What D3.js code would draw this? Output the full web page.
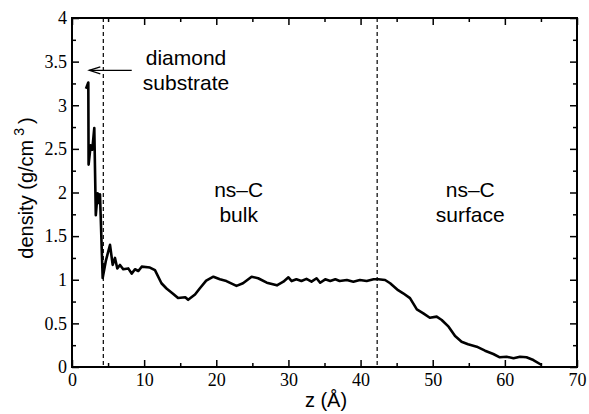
<!DOCTYPE html>
<html>
<head>
<meta charset="utf-8">
<script src="https://cdn.jsdelivr.net/npm/d3@7"></script>
<style>
  html, body { margin: 0; padding: 0; background: #fff; }
  svg { display: block; }
  .ticklbl text { font-family: "Liberation Serif", "DejaVu Serif", serif !important; font-size: 18px; }
</style>
</head>
<body>
<svg id="chart" width="589" height="414"></svg>
<script>
// ---- data ----
const zValues = [1.94, 2.26, 2.30, 2.59, 2.81, 3.09, 3.30, 3.55, 3.68, 3.88, 4.25, 4.7, 5.27, 5.64, 5.96, 6.28, 6.65, 7.1, 7.8, 8.27, 8.73, 9.2, 9.66, 10.8, 11.5, 12.4, 13.1, 14.0, 14.7, 15.7, 16.1, 17.05, 17.7, 18.6, 19.6, 20.5, 21.4, 22.8, 23.7, 24.9, 25.8, 27.0, 28.4, 29.3, 30.0, 30.45, 31.1, 31.8, 32.5, 33.2, 33.9, 34.4, 35.1, 35.8, 36.5, 37.1, 38.1, 39.0, 39.9, 40.85, 41.8, 42.46, 43.4, 44.1, 45.2, 45.9, 46.85, 47.8, 48.7, 49.6, 50.55, 51.25, 52.2, 53.1, 54.0, 54.9, 56.1, 57.25, 58.4, 59.3, 60.25, 61.2, 62.1, 63.0, 63.95, 65.1];
const densityValues = [3.19, 3.26, 2.32, 2.54, 2.49, 2.74, 1.74, 1.99, 1.88, 1.98, 1.02, 1.22, 1.40, 1.17, 1.25, 1.13, 1.17, 1.12, 1.13, 1.07, 1.12, 1.10, 1.15, 1.14, 1.11, 0.96, 0.90, 0.84, 0.79, 0.80, 0.77, 0.83, 0.90, 0.99, 1.035, 1.005, 0.985, 0.93, 0.96, 1.035, 1.017, 0.966, 0.936, 0.978, 1.028, 0.985, 1.005, 0.985, 1.01, 0.978, 1.017, 0.966, 1.005, 0.985, 1.005, 0.985, 0.997, 0.978, 0.997, 0.985, 1.005, 1.005, 0.997, 0.96, 0.88, 0.845, 0.79, 0.66, 0.615, 0.565, 0.577, 0.539, 0.462, 0.355, 0.29, 0.26, 0.233, 0.187, 0.149, 0.111, 0.118, 0.10, 0.118, 0.111, 0.08, 0.023];
const xMajorTicks = [0, 10, 20, 30, 40, 50, 60, 70];
const xMinorTicks = [5, 15, 25, 35, 45, 55, 65];
const yMajorTicks = [0, 0.5, 1, 1.5, 2, 2.5, 3, 3.5, 4];
const yMinorTicks = [0.25, 0.75, 1.25, 1.75, 2.25, 2.75, 3.25, 3.75];
const yTickLabels = ["0", "0.5", "1", "1.5", "2", "2.5", "3", "3.5", "4"];
const dividerZ = [4.34, 42.3];
const regionLabels = [
  {lines: ["diamond", "substrate"], z: 15.8, d: 3.46},
  {lines: ["ns\u2013C", "bulk"], z: 23.1, d: 1.95},
  {lines: ["ns\u2013C", "surface"], z: 55.2, d: 1.95}
];
const arrowFrom = {z: 8.28, d: 3.40};
const arrowTo = {z: 2.4, d: 3.40};

// ---- layout ----
const mLeft = 72, mRight = 577, mTop = 18, mBottom = 367;
const svg = d3.select("#chart");
const x = d3.scaleLinear().domain([0, 70]).range([mLeft, mRight]);
const y = d3.scaleLinear().domain([0, 4]).range([mBottom, mTop]);

const sans = "'Liberation Sans', Arial, Helvetica, sans-serif";

function styleAxis(g) {
  g.classed("ticklbl", true);
  g.attr("font-family", null).attr("font-size", null);
  g.select(".domain").remove();
  g.selectAll(".tick line").attr("stroke", "#000").attr("stroke-width", 1.5);
  g.selectAll(".tick text").attr("fill", "#000");
}

// bottom
svg.append("g").attr("transform", `translate(0,${mBottom})`)
  .call(d3.axisBottom(x).tickValues(xMajorTicks).tickFormat(d3.format("d")).tickSizeInner(-7).tickSizeOuter(0).tickPadding(6))
  .call(styleAxis);
svg.append("g").attr("transform", `translate(0,${mBottom})`)
  .call(d3.axisBottom(x).tickValues(xMinorTicks).tickFormat("").tickSizeInner(-4).tickSizeOuter(0))
  .call(styleAxis);
// top
svg.append("g").attr("transform", `translate(0,${mTop})`)
  .call(d3.axisTop(x).tickValues(xMajorTicks).tickFormat("").tickSizeInner(-7).tickSizeOuter(0))
  .call(styleAxis);
svg.append("g").attr("transform", `translate(0,${mTop})`)
  .call(d3.axisTop(x).tickValues(xMinorTicks).tickFormat("").tickSizeInner(-4).tickSizeOuter(0))
  .call(styleAxis);
// left
svg.append("g").attr("transform", `translate(${mLeft},0)`)
  .call(d3.axisLeft(y).tickValues(yMajorTicks).tickFormat((d, i) => yTickLabels[i]).tickSizeInner(-7).tickSizeOuter(0).tickPadding(5))
  .call(styleAxis);
svg.append("g").attr("transform", `translate(${mLeft},0)`)
  .call(d3.axisLeft(y).tickValues(yMinorTicks).tickFormat("").tickSizeInner(-4).tickSizeOuter(0))
  .call(styleAxis);
// right
svg.append("g").attr("transform", `translate(${mRight},0)`)
  .call(d3.axisRight(y).tickValues(yMajorTicks).tickFormat("").tickSizeInner(-7).tickSizeOuter(0))
  .call(styleAxis);
svg.append("g").attr("transform", `translate(${mRight},0)`)
  .call(d3.axisRight(y).tickValues(yMinorTicks).tickFormat("").tickSizeInner(-4).tickSizeOuter(0))
  .call(styleAxis);

// frame
svg.append("rect").attr("x", mLeft).attr("y", mTop).attr("width", mRight - mLeft).attr("height", mBottom - mTop)
  .attr("fill", "none").attr("stroke", "#000").attr("stroke-width", 2);

// dashed dividers
svg.selectAll("line.divider").data(dividerZ).enter().append("line")
  .attr("class", "divider")
  .attr("x1", d => x(d)).attr("x2", d => x(d))
  .attr("y1", y(4)).attr("y2", y(0))
  .attr("stroke", "#000").attr("stroke-width", 1.2).attr("stroke-dasharray", "4,3");

// curve
const pts = zValues.map((z, i) => [z, densityValues[i]]);
svg.append("path").datum(pts)
  .attr("fill", "none").attr("stroke", "#000").attr("stroke-width", 2.6)
  .attr("stroke-linejoin", "round")
  .attr("d", d3.line().x(d => x(d[0])).y(d => y(d[1])));

// arrow
const ax1 = x(arrowFrom.z), ay1 = y(arrowFrom.d), ax2 = x(arrowTo.z), ay2 = y(arrowTo.d);
svg.append("line").attr("x1", ax1).attr("y1", ay1).attr("x2", ax2).attr("y2", ay2)
  .attr("stroke", "#000").attr("stroke-width", 1.3);
svg.append("path")
  .attr("d", `M${ax2 + 11},${ay2 - 3.5} L${ax2},${ay2} L${ax2 + 11},${ay2 + 3.5}`)
  .attr("fill", "none").attr("stroke", "#000").attr("stroke-width", 1.3);

// region labels
regionLabels.forEach(r => {
  r.lines.forEach((t, i) => {
    svg.append("text")
      .attr("x", x(r.z)).attr("y", y(r.d) + i * 25)
      .attr("text-anchor", "middle")
      .style("font-family", sans).style("font-size", "21px")
      .attr("fill", "#000").text(t);
  });
});

// axis titles
svg.append("text")
  .attr("x", 326).attr("y", 407)
  .attr("text-anchor", "middle")
  .style("font-family", sans).style("font-size", "20px")
  .attr("fill", "#000").text("z (\u00C5)");

const yl = svg.append("text")
  .attr("transform", "translate(33,188) rotate(-90)")
  .attr("text-anchor", "middle")
  .style("font-family", sans).style("font-size", "20px")
  .attr("fill", "#000");
yl.append("tspan").text("density (g/cm");
yl.append("tspan").attr("dx", 4).attr("dy", -9).style("font-size", "14px").text("3");
yl.append("tspan").attr("dx", 4).attr("dy", 9).text(")");
</script>
</body>
</html>
